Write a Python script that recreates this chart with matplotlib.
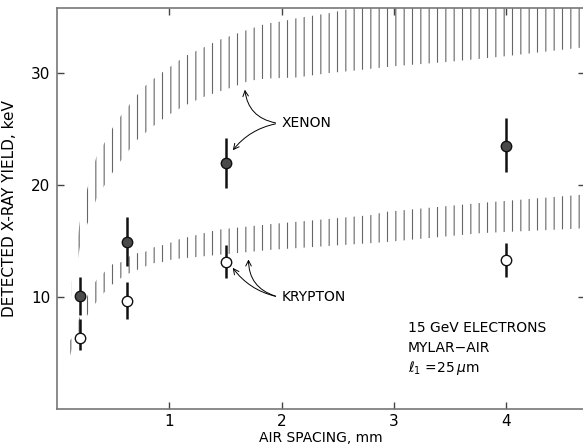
import numpy as np
import matplotlib
matplotlib.use('Agg')
import matplotlib.pyplot as plt

plt.rcParams['font.family'] = 'DejaVu Sans'
plt.rcParams['hatch.linewidth'] = 0.8

# measured points (air spacing in mm, yield in keV)
spacing = [0.2, 0.62, 1.5, 4.0]
xenon_y = [10.1, 14.9, 22.0, 23.5]
xenon_lo = [1.7, 2.1, 2.3, 2.3]
xenon_hi = [1.7, 2.2, 2.2, 2.5]
krypton_y = [6.3, 9.6, 13.1, 13.3]
krypton_lo = [1.0, 1.6, 1.4, 1.5]
krypton_hi = [1.7, 1.7, 1.5, 1.5]

# theory bands
xe_x = [0.13, 0.21, 0.29, 0.35, 0.43, 0.5, 0.57, 0.64, 0.71, 0.78, 0.85, 0.93,
        1.0, 1.14, 1.29, 1.43, 1.57, 1.71, 1.86, 2.0, 2.14, 2.43, 2.64, 3.0,
        3.5, 4.0, 4.7]
xe_low = [10.0, 14.9, 17.1, 18.75, 20.1, 21.2, 22.2, 23.1, 24.0, 24.6, 25.2, 25.8,
          26.3, 27.1, 27.8, 28.3, 28.75, 29.3, 29.5, 29.55, 29.6, 30.0, 30.2, 30.6,
          31.0, 31.5, 32.3]
xe_high = [11.3, 17.3, 20.5, 22.5, 23.9, 25.2, 26.2, 27.1, 28.0, 28.8, 29.4, 30.0,
           30.5, 31.5, 32.2, 32.9, 33.4, 33.9, 34.4, 34.6, 34.9, 35.35, 35.8, 36.3,
           37.0, 37.5, 38.0]

kr_x = [0.06, 0.13, 0.28, 0.35, 0.42, 0.49, 0.57, 0.64, 0.71, 0.78, 0.85, 0.93,
        1.0, 1.07, 1.43, 1.9, 2.79, 2.93, 3.78, 4.64, 4.7]
kr_low = [2.8, 5.3, 8.6, 9.55, 10.4, 11.1, 11.7, 12.1, 12.4, 12.7, 13.0, 13.1,
          13.3, 13.4, 13.75, 14.2, 14.8, 14.9, 15.7, 16.1, 16.15]
kr_high = [5.5, 6.3, 10.35, 11.5, 12.2, 12.9, 13.1, 13.6, 13.9, 14.0, 14.4, 14.6,
           14.8, 15.1, 16.0, 16.5, 17.3, 17.6, 18.4, 19.1, 19.15]

fig = plt.figure(figsize=(5.83, 4.44), dpi=100)
ax = fig.add_axes([0.098, 0.079, 0.905, 0.903])

# hatched bands
ax.fill_between(xe_x, xe_low, xe_high, facecolor='none', edgecolor='#666666',
                linewidth=0, hatch='||')
ax.fill_between(kr_x, kr_low, kr_high, facecolor='none', edgecolor='#666666',
                linewidth=0, hatch='||')

# data with error bars
ax.errorbar(spacing, xenon_y, yerr=[xenon_lo, xenon_hi], fmt='o', color='#111111',
            mfc='#4a4a4a', mec='#111111', ms=7.5, elinewidth=1.8, capsize=0, zorder=5)
ax.errorbar(spacing, krypton_y, yerr=[krypton_lo, krypton_hi], fmt='o', color='#111111',
            mfc='white', mec='#111111', ms=7.5, mew=1.0, elinewidth=1.8, capsize=0, zorder=5)

# labels with curved arrows
ax.text(2.0, 25.5, 'XENON', fontsize=10, va='center', ha='left')
ax.annotate('', xy=(1.67, 28.75), xytext=(1.97, 25.5),
            arrowprops=dict(arrowstyle='->', lw=0.7, connectionstyle='arc3,rad=-0.4'))
ax.annotate('', xy=(1.55, 22.9), xytext=(1.97, 25.5),
            arrowprops=dict(arrowstyle='->', lw=0.7, connectionstyle='arc3,rad=0.2'))

ax.text(2.0, 10.0, 'KRYPTON', fontsize=10, va='center', ha='left')
ax.annotate('', xy=(1.55, 12.8), xytext=(1.97, 10.0),
            arrowprops=dict(arrowstyle='->', lw=0.7, connectionstyle='arc3,rad=-0.2'))
ax.annotate('', xy=(1.705, 13.6), xytext=(1.97, 10.0),
            arrowprops=dict(arrowstyle='->', lw=0.7, connectionstyle='arc3,rad=-0.4'))

ax.text(3.125, 7.23, '15 GeV ELECTRONS', fontsize=10, va='center', ha='left')
ax.text(3.125, 5.45, 'MYLAR\u2212AIR', fontsize=10, va='center', ha='left')
ax.text(3.125, 3.66, r'$\ell_1$ =25$\,\mu$m', fontsize=10, va='center', ha='left')

ax.set_xlim(0, 4.7)
ax.set_ylim(0, 35.8)
ax.set_xticks([1, 2, 3, 4])
ax.set_yticks([10, 20, 30])
ax.tick_params(direction='in', length=5, width=1, color='#444444',
               top=True, right=True, labelsize=11, pad=5)
ax.tick_params(axis='x', pad=4)
for side in ['left', 'bottom', 'top']:
    ax.spines[side].set_color('#777777')
    ax.spines[side].set_linewidth(1.2)
ax.spines['right'].set_visible(False)

ax.set_xlabel('AIR SPACING, mm', fontsize=10, labelpad=1)
ax.set_ylabel('DETECTED X-RAY YIELD, keV', fontsize=11, labelpad=10)

fig.savefig('out.png', dpi=100)
